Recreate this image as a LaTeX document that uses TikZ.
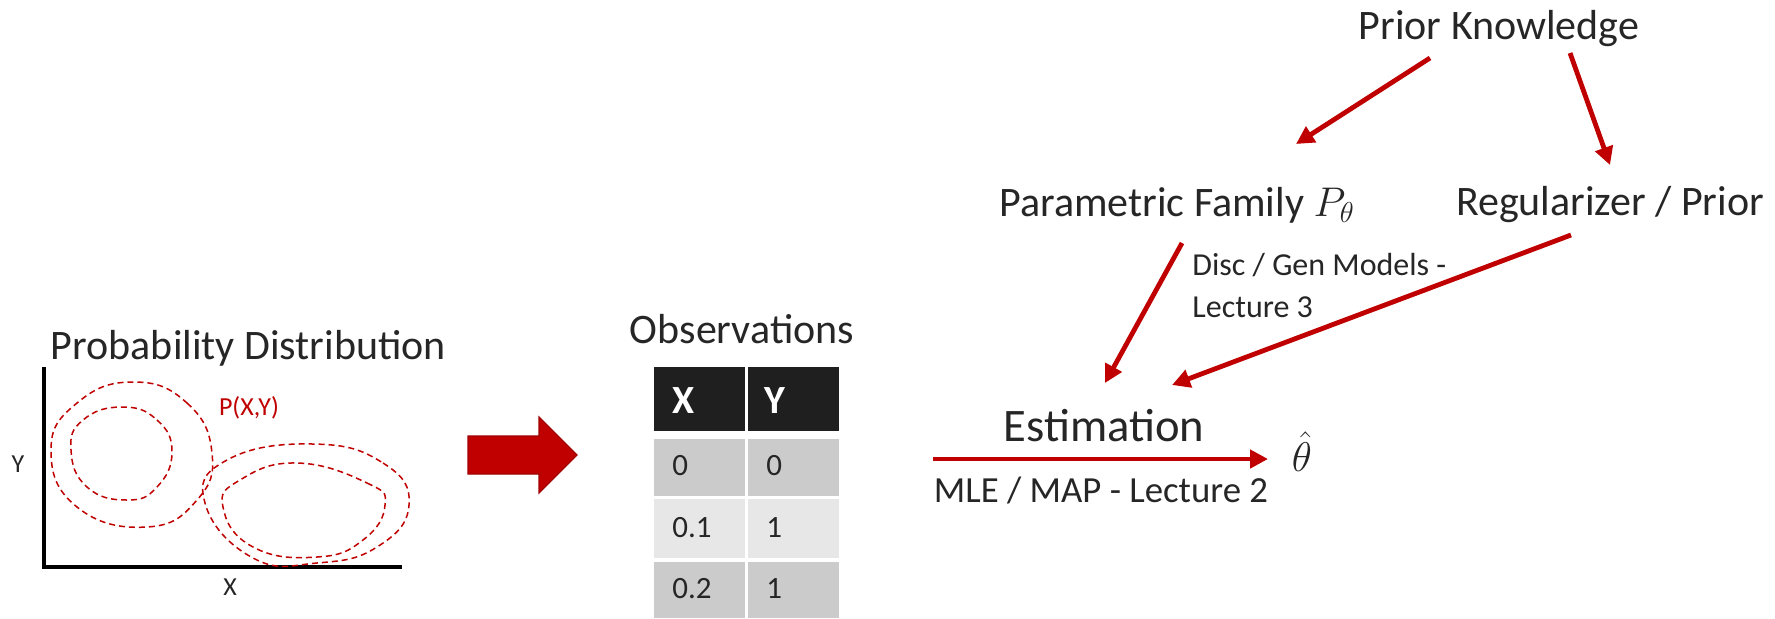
\documentclass[tikz,border=0pt]{standalone}
\usepackage{fontspec}
\setmainfont{Carlito}
\usetikzlibrary{arrows.meta}
\definecolor{dred}{HTML}{C00000}
\definecolor{edgered}{HTML}{A00000}
\definecolor{txt}{HTML}{262626}
\definecolor{hdr}{HTML}{1F1F1F}
\definecolor{rowa}{HTML}{CBCBCB}
\definecolor{rowb}{HTML}{E7E7E7}
\begin{document}
\begin{tikzpicture}[x=0.5pt,y=-0.5pt,
  lbl/.style={inner sep=0pt,text=txt,font=\fontsize{21}{25}\selectfont},
  small/.style={inner sep=0pt,text=txt,font=\fontsize{16}{20}\selectfont},
  axlbl/.style={inner sep=0pt,text=txt,font=\fontsize{13}{15}\selectfont},
  celltxt/.style={inner sep=0pt,text=txt,font=\fontsize{15.5}{18}\selectfont,anchor=base west},
  hdrtxt/.style={inner sep=0pt,text=white,font=\bfseries\fontsize{20}{23}\selectfont,anchor=base west},
  contour/.style={draw=dred,line width=0.75pt,dash pattern=on 3pt off 2pt},
  redarrow/.style={draw=dred,line width=2.4pt,-{Triangle[length=9pt,width=9pt]}},
  axis/.style={draw=black,line width=2pt}]
\useasboundingbox (0,0) rectangle (1775,618);

% ---------- probability distribution ----------
\node[lbl,anchor=base] (pd) at (248.5,359) {Probability Distribution};
\coordinate (o) at (44,567);
\coordinate (ytop) at (44,367);
\coordinate (xend) at (402,567);
\draw[axis] (ytop) -- (o) -- (xend);
\node[axlbl,anchor=base] (ylab) at (18,472) {Y};
\node[axlbl,anchor=base] (xlab) at (230,595) {X};
\node[axlbl,anchor=base,text=dred] (pxy) at (249,415) {P(X,Y)};
\draw[contour] plot[smooth cycle,tension=0.8] coordinates
  {(133,382) (187,403) (212,453) (197,500) (147,527) (77,507) (51,450) (77,403)};
\draw[contour] plot[smooth cycle,tension=0.8] coordinates
  {(122,407) (157,420) (172,452) (157,487) (127,500) (87,487) (71,450) (83,420)};
\draw[contour] plot[smooth cycle,tension=0.8] coordinates
  {(313,444) (383,463) (409,505) (377,547) (317,563) (253,558) (205,503) (227,460)};
\draw[contour] plot[smooth cycle,tension=0.8] coordinates
  {(297,463) (367,483) (385,505) (363,540) (317,557) (253,547) (223,507) (240,480)};

% ---------- block arrow ----------
\fill[dred,draw=edgered,line width=0.6pt] (468,436) -- (539,436) -- (539,417) -- (577,455)
  -- (539,493) -- (539,474) -- (468,474) -- cycle;

% ---------- observations table ----------
\node[lbl,anchor=base] (obs) at (742,343) {Observations};
\fill[hdr] (654,367) rectangle (745,431);
\fill[hdr] (748,367) rectangle (839,431);
\fill[rowa] (654,439) rectangle (745,496);
\fill[rowa] (748,439) rectangle (839,496);
\fill[rowb] (654,499) rectangle (745,558);
\fill[rowb] (748,499) rectangle (839,558);
\fill[rowa] (654,562) rectangle (745,618);
\fill[rowa] (748,562) rectangle (839,618);
\node[hdrtxt] (hx) at (672,413) {X};
\node[hdrtxt] (hy) at (764,413) {Y};
\node[celltxt] (r1x) at (672,475) {0};
\node[celltxt] (r1y) at (766,475) {0};
\node[celltxt] (r2x) at (672,537) {0.1};
\node[celltxt] (r2y) at (766,537) {1};
\node[celltxt] (r3x) at (672,598) {0.2};
\node[celltxt] (r3y) at (766,598) {1};

% ---------- right side ----------
\node[lbl,anchor=base] (pk) at (1499,39) {Prior Knowledge};
\node[lbl,anchor=base west] (pf) at (999,216) {Parametric Family $P_\theta$};
\node[lbl,anchor=base] (reg) at (1610,215) {Regularizer / Prior};
\node[small,anchor=base west] (disc1) at (1192,275) {Disc / Gen Models -};
\node[small,anchor=base west] (disc2) at (1192,317) {Lecture 3};
\node[lbl,anchor=base,font=\fontsize{23.3}{27}\selectfont] (est) at (1104,441) {Estimation};
\node[lbl,anchor=base,font=\fontsize{18.4}{22}\selectfont] (mle) at (1101,502) {MLE / MAP - Lecture 2};
\node[inner sep=0pt,text=txt,font=\fontsize{21}{24}\selectfont] (th) at (1302,452) {$\hat{\theta}$};

\coordinate (pkL) at (1430,58);
\coordinate (pfT) at (1296,144);
\coordinate (pkR) at (1570,53);
\coordinate (regT) at (1610,165);
\coordinate (pfB) at (1182,243);
\coordinate (estT1) at (1105,383);
\coordinate (regB) at (1571,235);
\coordinate (estT2) at (1172,385);
\coordinate (estL) at (933,459);
\coordinate (thL) at (1268,459);
\draw[redarrow] (pkL) -- (pfT);
\draw[redarrow] (pkR) -- (regT);
\draw[redarrow] (pfB) -- (estT1);
\draw[redarrow] (regB) -- (estT2);
\draw[redarrow] (estL) -- (thL);
\end{tikzpicture}
\end{document}
